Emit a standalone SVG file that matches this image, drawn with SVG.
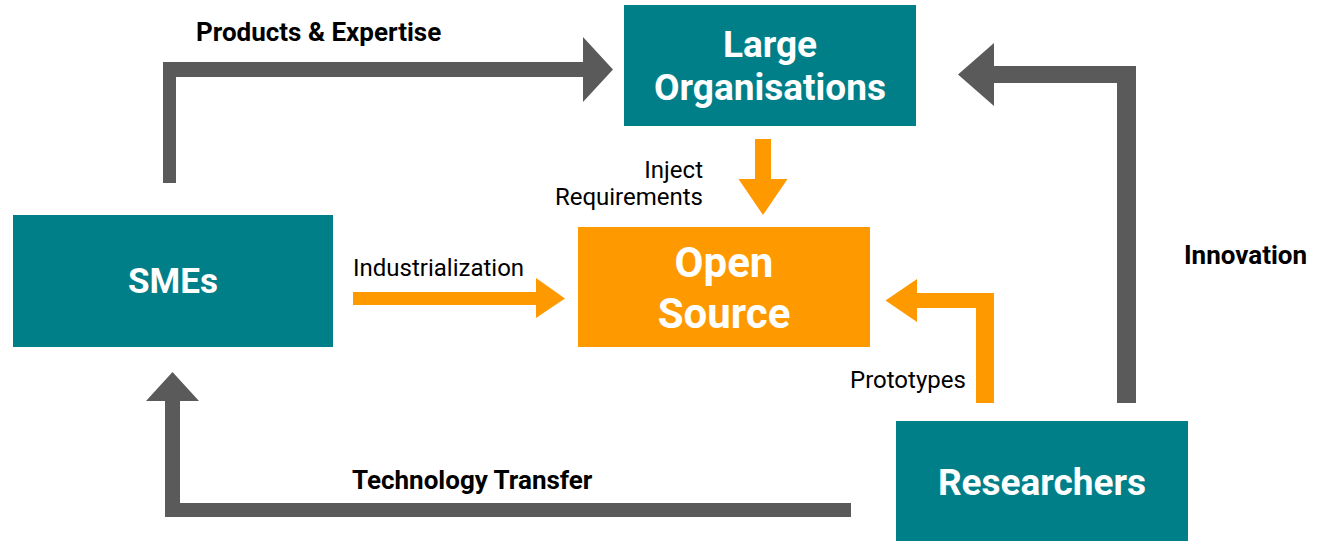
<svg xmlns="http://www.w3.org/2000/svg" width="1320" height="541" viewBox="0 0 1320 541">
<style>
.teal{fill:#007F89}
.orange{fill:#FF9900}
.gray{fill:#5A5A5A}
.btxt{font-family:Roboto,"Liberation Sans",sans-serif;font-weight:bold;fill:#ffffff;text-anchor:middle}
.lbl{font-family:Roboto,"Liberation Sans",sans-serif;font-weight:bold;fill:#000000;font-size:26px}
.rlbl{font-family:Roboto,"Liberation Sans",sans-serif;fill:#000000;font-size:24px}
</style>
<rect width="1320" height="541" fill="#ffffff"/>
<g id="connectors">
<path class="gray" d="M163,183 L163,62 L583,62 L583,37 L613,69.5 L583,102 L583,77 L176,77 L176,183 Z"/>
<path class="gray" d="M1136,403 L1136,66 L994,66 L994,43 L958,74.5 L994,106 L994,83 L1117,83 L1117,403 Z"/>
<path class="gray" d="M851,503 L180,503 L180,401 L199,401 L172.5,372 L146,401 L165,401 L165,517 L851,517 Z"/>
<path class="orange" d="M755,139 L771,139 L771,179 L787.5,179 L763,215 L738.5,179 L755,179 Z"/>
<path class="orange" d="M353,292 L536,292 L536,278 L565,298.5 L536,318 L536,305 L353,305 Z"/>
<path class="orange" d="M994,403 L994,293 L917,293 L917,279 L885.5,300.5 L917,322 L917,308 L976,308 L976,403 Z"/>
<text class="lbl" x="196" y="41" font-size="26.5">Products &amp; Expertise</text>
<text class="lbl" x="1184" y="264">Innovation</text>
<text class="lbl" x="352" y="489" font-size="26.5">Technology Transfer</text>
<text class="rlbl" x="703" y="178" text-anchor="end">Inject</text>
<text class="rlbl" x="703" y="205" text-anchor="end">Requirements</text>
<text class="rlbl" x="353" y="276">Industrialization</text>
<text class="rlbl" x="850" y="388">Prototypes</text>
</g>
<g id="large-organisations">
<rect class="teal" x="624" y="5" width="292" height="121"/>
<text class="btxt" x="770" y="57" font-size="37">Large</text>
<text class="btxt" x="770" y="100" font-size="37">Organisations</text>
</g>
<g id="smes">
<rect class="teal" x="13" y="215" width="320" height="132"/>
<text class="btxt" x="173" y="293" font-size="35">SMEs</text>
</g>
<g id="open-source">
<rect class="orange" x="578" y="227" width="292" height="120"/>
<text class="btxt" x="724" y="277" font-size="42">Open</text>
<text class="btxt" x="724" y="328" font-size="42">Source</text>
</g>
<g id="researchers">
<rect class="teal" x="896" y="421" width="292" height="125"/>
<text class="btxt" x="1042" y="495" font-size="37">Researchers</text>
</g>
</svg>
